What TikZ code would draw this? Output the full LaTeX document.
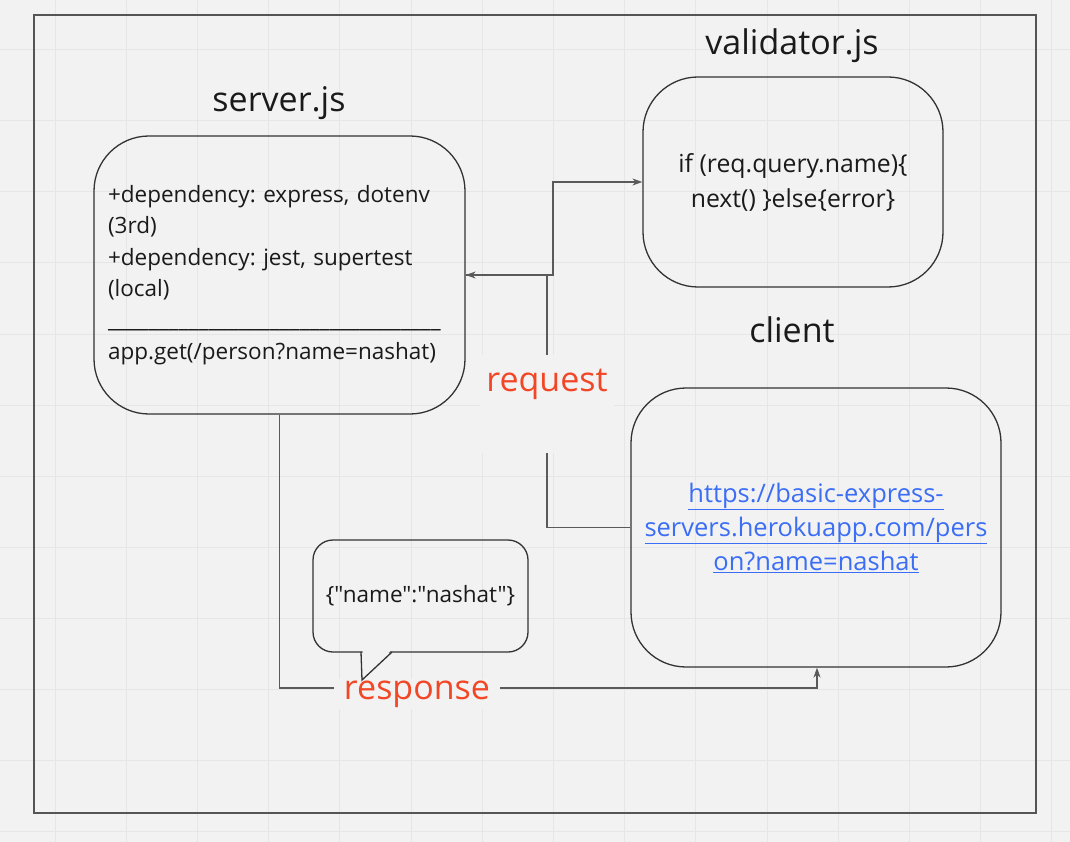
\documentclass[tikz,border=0pt]{standalone}
\usepackage{fontspec}
\setmainfont{Open Sans}[Ligatures=TeXOff]
\usetikzlibrary{arrows.meta}
\definecolor{bg}{HTML}{F2F2F2}
\definecolor{gridc}{HTML}{E6E6E6}
\definecolor{framec}{HTML}{555555}
\definecolor{txt}{HTML}{1A1A1A}
\definecolor{boxc}{HTML}{333333}
\definecolor{lab}{HTML}{F24726}
\definecolor{linkc}{HTML}{3B6EF5}
\definecolor{connc}{HTML}{5A5A5A}
\tikzset{
  card/.style={draw=boxc, line width=1.3pt, rounded corners=55pt, inner sep=0pt, text=txt},
  ttl/.style={text=txt, font=\fontsize{34}{40}\selectfont, inner sep=0pt},
  conn/.style={draw=connc, line width=1.2pt},
  tip/.style={-{Stealth[length=10pt,width=7pt]}},
  redlab/.style={text=lab, fill=bg, font=\fontsize{34}{40}\selectfont},
}
\frenchspacing
\begin{document}
\frenchspacing
\begin{tikzpicture}[x=1pt,y=-1pt]
\fill[bg] (0,0) rectangle (1070,842);
\useasboundingbox (0,0) rectangle (1070,842);
\foreach \k in {0,...,14} \draw[gridc, line width=1pt] ({55+71.2*\k},0) -- ++(0,842);
\foreach \k in {0,...,11} \draw[gridc, line width=1pt] (0,{50+71*\k}) -- ++(1070,0);
\draw[framec, line width=2pt] (34,15) rectangle (1036,813);

% boxes
\node[card, minimum width=371pt, minimum height=278pt, align=left, text width=343pt,
      font=\fontsize{22.5}{31.4}\selectfont\frenchspacing] (server) at (279.5,275)
  {+dependency: express, dotenv\\(3rd)\\+dependency: jest, supertest\\(local)\\
   \_\_\_\_\_\_\_\_\_\_\_\_\_\_\_\_\_\_\_\_\_\_\_\_\_\_\_\_\_\_\_\_\_\\app.get(/person?name=nashat)};
\node[card, minimum width=300pt, minimum height=210pt, align=center,
      font=\fontsize{24.8}{35}\selectfont] (validator) at (793,182)
  {if (req.query.name)\{\\next() \}else\{error\}};
\node[card, minimum width=370pt, minimum height=279pt, align=center, text=linkc,
      font=\fontsize{25.5}{34}\selectfont] (client) at (816,527.5)
  {\underline{https://basic-express-}\\\underline{servers.herokuapp.com/pers}\\\underline{on?name=nashat}};

% titles
\node[ttl] (tserver) at (279,103) {server.js};
\node[ttl] (tvalidator) at (792,46) {validator.js};
\node[ttl] (tclient) at (792,330) {client};

% connectors
\draw[conn, tip] (client.west) -- (547,527.5) |- (server.east);
\draw[conn, tip] (server.east) -- (553,275) |- (validator.west);
\draw[conn, tip] (server.south) |- (817,688) -- (client.south -| 817,0);

% labels
\node[redlab, inner ysep=0pt, inner xsep=6pt, text height=36pt, text depth=62pt] (lreq) at (547,404) {request};
\node[redlab, inner xsep=10pt, inner ysep=2pt] (lresp) at (417,694) {response};

% bubble
\node[draw=boxc, line width=1.3pt, rounded corners=20pt, minimum width=215pt, minimum height=112pt,
      text=txt, font=\fontsize{22.5}{26}\selectfont] (bubble) at (420.5,596) {\{"name":"nashat"\}};
\fill[bg] (362.5,650.5) -- (391,650.5) -- (362.5,678) -- cycle;
\draw[boxc, line width=1.3pt] (361,652) -- (362,680) -- (392,652);
\end{tikzpicture}
\end{document}
